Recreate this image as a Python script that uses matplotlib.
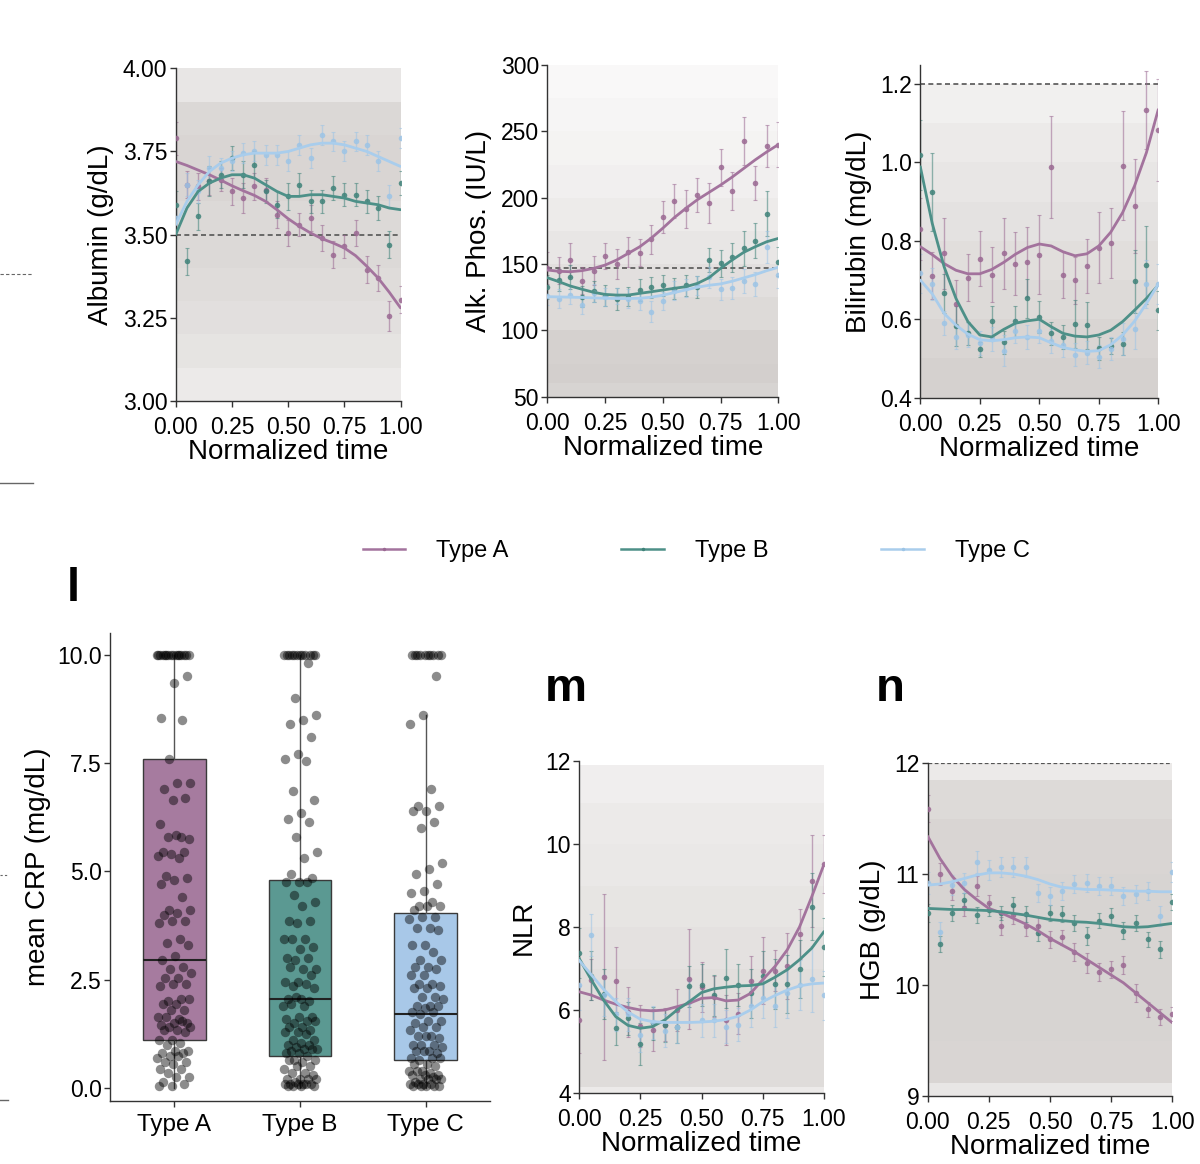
import numpy as np
import matplotlib
matplotlib.use("Agg")
import matplotlib.pyplot as plt
from matplotlib.lines import Line2D
from matplotlib.colors import LinearSegmentedColormap

plt.rcParams['font.family'] = ['Liberation Sans', 'DejaVu Sans']

# ---------------- data ----------------
t = [0.00, 0.05, 0.10, 0.15, 0.20, 0.25, 0.30, 0.35, 0.40, 0.45, 0.50,
     0.55, 0.60, 0.65, 0.70, 0.75, 0.80, 0.85, 0.90, 0.95, 1.00]
groups = ["Type A", "Type B", "Type C"]

# Albumin
alb_A = [3.79, 3.65, 3.645, 3.66, 3.665, 3.63, 3.61, 3.645, 3.635, 3.56, 3.505,
         3.53, 3.55, 3.49, 3.44, 3.465, 3.505, 3.395, 3.37, 3.255, 3.305]
alb_A_err = [0.05, 0.04, 0.04, 0.04, 0.035, 0.04, 0.045, 0.04, 0.035, 0.04, 0.04,
             0.035, 0.04, 0.04, 0.04, 0.035, 0.04, 0.04, 0.04, 0.045, 0.04]
alb_A_fit = [3.720, 3.708, 3.694, 3.680, 3.664, 3.647, 3.632, 3.618, 3.600, 3.575, 3.548,
             3.525, 3.505, 3.488, 3.475, 3.460, 3.437, 3.405, 3.370, 3.327, 3.280]
alb_B = [3.59, 3.42, 3.555, 3.66, 3.68, 3.73, 3.68, 3.71, 3.63, 3.59, 3.615,
         3.65, 3.60, 3.60, 3.64, 3.62, 3.62, 3.60, 3.58, 3.47, 3.655]
alb_B_err = [0.04, 0.04, 0.04, 0.045, 0.04, 0.035, 0.04, 0.04, 0.035, 0.04, 0.04,
             0.035, 0.035, 0.035, 0.035, 0.035, 0.035, 0.035, 0.035, 0.04, 0.035]
alb_B_fit = [3.500, 3.580, 3.630, 3.655, 3.670, 3.680, 3.680, 3.670, 3.650, 3.630, 3.615,
             3.615, 3.620, 3.620, 3.615, 3.610, 3.600, 3.595, 3.590, 3.580, 3.575]
alb_C = [3.55, 3.65, 3.63, 3.70, 3.70, 3.72, 3.745, 3.75, 3.74, 3.74, 3.72,
         3.77, 3.73, 3.80, 3.78, 3.75, 3.78, 3.77, 3.72, 3.615, 3.79]
alb_C_err = [0.035, 0.035, 0.035, 0.035, 0.03, 0.03, 0.03, 0.03, 0.03, 0.03, 0.03,
             0.03, 0.03, 0.03, 0.03, 0.03, 0.03, 0.03, 0.03, 0.035, 0.03]
alb_C_fit = [3.530, 3.600, 3.650, 3.690, 3.715, 3.730, 3.740, 3.745, 3.745, 3.745, 3.750,
             3.760, 3.770, 3.775, 3.775, 3.770, 3.760, 3.750, 3.735, 3.720, 3.705]

# Alkaline phosphatase
alk_A = [147, 145, 153, 137.5, 145, 156, 150, 159, 158.5, 168.5, 185.5,
         197.5, 191.5, 202, 196, 223, 205, 243, 211, 239, 240]
alk_A_err = [12, 10, 13, 10, 11, 10, 11, 11, 10, 11, 12,
             13, 14, 13, 15, 14, 14, 18, 13, 16, 17]
alk_A_fit = [145.5, 144.5, 144.2, 145.0, 146.7, 149.2, 153.0, 158.0, 163.0, 169.5, 177.0,
             185.0, 192.0, 198.5, 204.0, 209.5, 215.5, 222.0, 228.5, 234.5, 240.0]
alk_B = [132.4, 138, 140.5, 125.4, 129.4, 126, 123.6, 125.4, 130.4, 132.4, 134,
         131.4, 134, 132.6, 153, 150.5, 155, 161.8, 167.6, 188, 151.8]
alk_B_err = [9, 8, 9, 8, 8, 8, 8, 7, 8, 8, 8,
             8, 8, 8, 9, 10, 11, 13, 13, 17, 11]
alk_B_fit = [139.7, 136.7, 133.4, 131.0, 128.7, 127.1, 126.6, 126.6, 127.9, 129.1, 130.4,
             131.7, 132.9, 135.4, 139.7, 146.7, 153.0, 158.8, 163.0, 166.8, 169.3]
alk_C = [126, 124, 127, 119, 128, 125, 126, 124, 122, 114, 122,
         130, 132, 134, 140, 131, 132, 137, 135, 163, 142]
alk_C_err = [7, 7, 7, 7, 7, 7, 6, 7, 7, 8, 7,
             7, 7, 7, 8, 8, 8, 9, 9, 12, 10]
alk_C_fit = [125.4, 125.2, 125.0, 124.8, 124.5, 124.2, 124.0, 124.0, 124.2, 125.0, 126.5,
             128.5, 130.5, 132.5, 134.0, 135.0, 137.0, 139.5, 142.0, 145.0, 147.5]

# Bilirubin
bil_A = [0.83, 0.711, 0.768, 0.64, 0.706, 0.754, 0.714, 0.768, 0.742, 0.746, 0.765,
         0.989, 0.713, 0.70, 0.736, 0.783, 0.795, 0.992, 0.889, 1.134, 1.083]
bil_A_err = [0.08, 0.06, 0.09, 0.06, 0.06, 0.07, 0.07, 0.09, 0.08, 0.09, 0.10,
             0.13, 0.06, 0.06, 0.07, 0.09, 0.09, 0.14, 0.12, 0.10, 0.13]
bil_A_fit = [0.785, 0.765, 0.742, 0.725, 0.716, 0.716, 0.727, 0.745, 0.766, 0.783, 0.792,
             0.787, 0.772, 0.762, 0.767, 0.787, 0.822, 0.872, 0.940, 1.025, 1.135]
bil_B = [1.019, 0.924, 0.666, 0.583, 0.564, 0.523, 0.595, 0.541, 0.595, 0.654, 0.606,
         0.564, 0.555, 0.588, 0.585, 0.526, 0.532, 0.538, 0.697, 0.738, 0.623]
bil_B_err = [0.09, 0.10, 0.05, 0.05, 0.03, 0.02, 0.04, 0.03, 0.04, 0.05, 0.04,
             0.03, 0.03, 0.06, 0.06, 0.03, 0.02, 0.03, 0.08, 0.10, 0.05]
bil_B_fit = [0.989, 0.845, 0.734, 0.653, 0.594, 0.560, 0.555, 0.574, 0.590, 0.596, 0.600,
             0.581, 0.564, 0.557, 0.555, 0.560, 0.572, 0.594, 0.623, 0.653, 0.687]
bil_C = [0.717, 0.69, 0.59, 0.555, 0.56, 0.54, 0.55, 0.52, 0.57, 0.555, 0.57,
         0.545, 0.535, 0.51, 0.515, 0.505, 0.525, 0.55, 0.575, 0.69, 0.69]
bil_C_err = [0.05, 0.04, 0.03, 0.03, 0.03, 0.03, 0.03, 0.04, 0.03, 0.03, 0.03,
             0.03, 0.03, 0.03, 0.03, 0.03, 0.03, 0.04, 0.05, 0.06, 0.05]
bil_C_fit = [0.700, 0.665, 0.615, 0.585, 0.562, 0.548, 0.545, 0.548, 0.553, 0.555, 0.553,
             0.540, 0.528, 0.522, 0.518, 0.520, 0.535, 0.560, 0.595, 0.640, 0.690]

# NLR
nlr_A = [5.77, 6.73, 6.79, 6.71, 5.96, 5.62, 5.52, 5.65, 6.0, 6.74, 6.55,
         6.32, 5.76, 5.91, 6.71, 6.95, 6.95, 7.06, 7.83, 9.11, 9.51]
nlr_A_err = [0.8, 0.5, 2.0, 0.8, 0.6, 0.5, 0.5, 0.4, 0.5, 1.2, 0.6,
             0.5, 0.6, 0.5, 0.6, 0.8, 0.5, 0.8, 0.6, 1.1, 0.7]
nlr_A_fit = [6.44, 6.36, 6.24, 6.14, 6.06, 6.00, 5.98, 6.00, 6.08, 6.16, 6.28,
             6.30, 6.22, 6.24, 6.40, 6.73, 7.05, 7.45, 8.00, 8.73, 9.51]
nlr_B = [7.37, 6.83, 6.38, 5.56, 5.80, 5.18, 5.68, 5.63, 5.60, 6.57, 6.60,
         6.35, 6.76, 6.60, 6.40, 6.81, 6.63, 6.63, 6.98, 8.49, 7.51]
nlr_B_err = [0.6, 0.6, 0.6, 0.4, 0.4, 0.5, 0.4, 0.4, 0.4, 0.5, 0.5,
             0.5, 0.7, 0.5, 0.6, 0.6, 0.6, 0.7, 0.7, 0.8, 0.7]
nlr_B_fit = [7.25, 6.73, 6.24, 5.84, 5.63, 5.56, 5.60, 5.76, 6.00, 6.20, 6.42,
             6.51, 6.55, 6.58, 6.59, 6.63, 6.79, 6.97, 7.21, 7.49, 7.89]
nlr_C = [6.6, 7.81, 6.35, 5.9, 5.9, 5.4, 5.7, 5.5, 5.6, 6.2, 5.75,
         5.75, 5.6, 5.65, 6.1, 6.3, 6.1, 6.4, 6.6, 6.75, 6.35]
nlr_C_err = [0.6, 0.5, 0.5, 0.4, 0.4, 0.4, 0.4, 0.4, 0.4, 0.5, 0.4,
             0.4, 0.4, 0.4, 0.5, 0.5, 0.5, 0.6, 0.6, 0.8, 0.6]
nlr_C_fit = [7.20, 6.85, 6.50, 6.20, 5.95, 5.78, 5.72, 5.70, 5.70, 5.70, 5.71,
             5.73, 5.77, 5.85, 6.00, 6.20, 6.35, 6.48, 6.58, 6.63, 6.65]

# Hemoglobin
hgb_A = [11.59, 11.0, 10.85, 10.69, 10.89, 10.74, 10.53, 10.63, 10.53, 10.53, 10.41,
         10.43, 10.30, 10.20, 10.12, 10.14, 10.18, 9.93, 9.78, 9.71, 9.74]
hgb_A_err = [0.12, 0.10, 0.08, 0.07, 0.09, 0.07, 0.08, 0.08, 0.09, 0.08, 0.08,
             0.07, 0.08, 0.09, 0.08, 0.08, 0.08, 0.08, 0.07, 0.07, 0.06]
hgb_A_fit = [11.34, 11.14, 10.98, 10.86, 10.77, 10.69, 10.65, 10.60, 10.55, 10.49, 10.42,
             10.36, 10.30, 10.23, 10.16, 10.09, 10.02, 9.93, 9.84, 9.75, 9.66]
hgb_B = [10.65, 10.37, 10.65, 10.77, 10.63, 10.68, 10.65, 10.72, 10.64, 10.47, 10.65,
         10.64, 10.56, 10.44, 10.58, 10.62, 10.49, 10.56, 10.41, 10.32, 10.75]
hgb_B_err = [0.08, 0.07, 0.07, 0.06, 0.07, 0.06, 0.06, 0.07, 0.07, 0.07, 0.07,
             0.07, 0.07, 0.08, 0.07, 0.07, 0.08, 0.07, 0.07, 0.08, 0.07]
hgb_B_fit = [10.69, 10.685, 10.68, 10.68, 10.675, 10.67, 10.66, 10.645, 10.63, 10.61, 10.59,
             10.58, 10.57, 10.565, 10.555, 10.54, 10.525, 10.52, 10.525, 10.54, 10.555]
hgb_C = [10.92, 10.48, 10.9, 10.92, 11.11, 11.04, 11.06, 11.06, 11.06, 10.83, 10.80,
         10.85, 10.91, 10.92, 10.89, 10.89, 10.80, 10.82, 10.85, 10.62, 11.02]
hgb_C_err = [0.10, 0.09, 0.09, 0.09, 0.1, 0.09, 0.09, 0.09, 0.09, 0.08, 0.08,
             0.08, 0.08, 0.08, 0.08, 0.08, 0.08, 0.08, 0.08, 0.09, 0.09]
hgb_C_fit = [10.90, 10.91, 10.93, 10.96, 10.99, 11.01, 11.01, 11.00, 10.98, 10.95, 10.91,
             10.88, 10.87, 10.86, 10.86, 10.855, 10.85, 10.845, 10.845, 10.84, 10.84]

# mean CRP per patient
crp_A = [10.0, 10.0, 10.0, 10.0, 10.0, 10.0, 10.0, 10.0, 10.0, 10.0, 10.0, 10.0, 10.0, 10.0, 10.0, 10.0,
         9.5, 9.35, 8.55, 8.5, 7.6, 7.05, 7.05, 6.9, 6.7, 6.65, 6.1, 5.8, 5.8, 5.75, 5.85,
         5.45, 5.45, 5.4, 5.35, 5.3, 4.9, 4.85, 4.8, 4.7, 4.4, 4.1, 4.1, 4.05, 4.0, 3.85,
         3.85, 3.8, 3.45, 3.35, 3.3, 3.05, 2.95, 2.8, 2.75, 2.65, 2.55, 2.55, 2.4, 2.4,
         2.35, 2.05, 2.0, 2.05, 1.95, 1.95, 1.8, 1.8, 1.65, 1.6, 1.65, 1.5, 1.5, 1.45,
         1.55, 1.4, 1.4, 1.35, 1.35, 1.3, 1.1, 1.1, 1.05, 1.0, 0.85, 0.85, 0.8, 0.8, 0.75,
         0.7, 0.75, 0.6, 0.6, 0.55, 0.45, 0.45, 0.35, 0.25, 0.25, 0.15, 0.1, 0.05, 0.05]
crp_B = [10.0, 10.0, 10.0, 10.0, 10.0, 10.0, 10.0, 10.0, 10.0, 10.0, 10.0, 10.0,
         9.8, 9.0, 8.6, 8.5, 8.4, 8.1, 7.7, 7.6, 7.55, 6.85, 6.65, 6.35, 6.2, 6.15, 5.8,
         5.45, 5.3, 4.95, 4.85, 4.75, 4.75, 4.75, 4.45, 4.3, 4.2, 3.85, 3.85, 3.8, 3.45,
         3.45, 3.45, 3.25, 3.2, 3.0, 3.0, 2.95, 2.75, 2.75, 2.8, 2.6, 2.45, 2.45, 2.4,
         2.35, 2.3, 2.05, 2.05, 2.0, 2.1, 1.9, 1.9, 1.95, 1.65, 1.65, 1.6, 1.55, 1.5, 1.55,
         1.4, 1.4, 1.35, 1.3, 1.3, 1.25, 1.1, 1.1, 1.05, 1.0, 1.0, 0.95, 0.9, 0.9, 0.85,
         0.9, 0.8, 0.8, 0.75, 0.65, 0.65, 0.6, 0.65, 0.5, 0.5, 0.45, 0.35, 0.35, 0.3, 0.2,
         0.2, 0.2, 0.15, 0.2, 0.1, 0.1, 0.1, 0.1, 0.1, 0.1, 0.05, 0.05, 0.05, 0.05]
crp_C = [10.0, 10.0, 10.0, 10.0, 10.0, 10.0, 10.0, 10.0, 10.0, 10.0,
         9.5, 8.6, 8.4, 6.9, 6.5, 6.5, 6.4, 6.4, 6.15, 6.0, 5.2, 5.05, 4.95, 4.7, 4.55,
         4.5, 4.3, 4.2, 4.2, 4.2, 4.1, 3.95, 3.95, 3.9, 3.7, 3.7, 3.65, 3.3, 3.3, 3.15,
         2.95, 2.95, 2.8, 2.8, 2.75, 2.6, 2.6, 2.4, 2.4, 2.35, 2.3, 2.3, 2.1, 2.1, 2.05,
         1.9, 1.9, 1.9, 1.85, 1.75, 1.75, 1.7, 1.55, 1.55, 1.5, 1.4, 1.4, 1.35, 1.2, 1.2,
         1.15, 1.2, 1.0, 1.0, 1.0, 0.95, 0.85, 0.85, 0.8, 0.85, 0.7, 0.7, 0.65, 0.7, 0.55,
         0.55, 0.5, 0.4, 0.4, 0.35, 0.4, 0.3, 0.3, 0.3, 0.25, 0.2, 0.2, 0.2, 0.15, 0.2,
         0.1, 0.1, 0.1, 0.1, 0.05, 0.05, 0.05, 0.05, 0.05]
crp_q1 = [1.1, 0.75, 0.65]
crp_med = [2.95, 2.05, 1.7]
crp_q3 = [7.6, 4.8, 4.05]
crp_whislo = [0.0, 0.0, 0.0]
crp_whishi = [10.0, 10.0, 8.6]

# background density of individual trajectories (grey texture)
alb_bg_edges = [3.0, 3.1, 3.2, 3.3, 3.4, 3.6, 3.7, 3.8, 3.9, 4.0]
alb_bg_dens = [0.25, 0.33, 0.38, 0.42, 0.46, 0.5, 0.5, 0.47, 0.3]
alk_bg_edges = [50, 60, 75, 100, 125, 150, 175, 200, 225, 250, 275, 300]
alk_bg_dens = [0.52, 0.58, 0.55, 0.45, 0.38, 0.3, 0.24, 0.19, 0.15, 0.12, 0.08]
bil_bg_edges = [0.4, 0.5, 0.6, 0.7, 0.8, 0.9, 1.0, 1.1, 1.2, 1.25]
bil_bg_dens = [0.55, 0.5, 0.45, 0.4, 0.35, 0.3, 0.25, 0.18, 0.0]
nlr_bg_edges = [4.0, 4.15, 5, 6, 7, 8, 9, 10, 11, 11.9, 12]
nlr_bg_dens = [0.25, 0.42, 0.42, 0.4, 0.36, 0.32, 0.28, 0.25, 0.2, 0.0]
hgb_bg_edges = [9.0, 9.12, 9.5, 10, 10.5, 11, 11.5, 11.85, 12.0]
hgb_bg_dens = [0.3, 0.5, 0.52, 0.52, 0.52, 0.5, 0.45, 0.25]

# ---------------- style ----------------
col_line = {"Type A": "#A3739D", "Type B": "#4D9088", "Type C": "#A9CDEC"}
col_pt = {"Type A": "#9A6892", "Type B": "#3F8279", "Type C": "#9CC4E6"}
col_box = {"Type A": "#A67B9F", "Type B": "#5B9992", "Type C": "#A8C8E8"}
spine_col = "#333333"
TICK_FS = 16.5
LAB_FS = 20

bg_cmap = LinearSegmentedColormap.from_list("bg", ["#ffffff", "#b3aca8"])

fig = plt.figure(figsize=(12, 11.64), dpi=100)
W, H = 1200.0, 1164.0


def add_ax(x0, x1, ytop, ybot):
    return fig.add_axes([x0 / W, 1 - ybot / H, (x1 - x0) / W, (ybot - ytop) / H])


def style_ax(ax):
    for s in ["top", "right"]:
        ax.spines[s].set_visible(False)
    for s in ["left", "bottom"]:
        ax.spines[s].set_color(spine_col)
        ax.spines[s].set_linewidth(1.0)
    ax.tick_params(direction="out", length=4, width=1, color=spine_col,
                   labelsize=TICK_FS, pad=2, labelcolor="black")
    ax.tick_params(axis="x", pad=7)


def traj_panel(ax, ylim, yticks, ylabels, ylabel, series, bg_edges, bg_dens, refline=None,
               ref_lw=1.2):
    style_ax(ax)
    edges = np.array(bg_edges, dtype=float)
    dens = np.array(bg_dens, dtype=float)
    for lo, hi, d in zip(edges[:-1], edges[1:], dens):
        ax.axhspan(lo, hi, xmin=0, xmax=1, color=bg_cmap(d), lw=0, zorder=0)
    if refline is not None:
        ax.axhline(refline, color="#555555", lw=ref_lw, ls=(0, (3, 2)), zorder=1)
    for g, (vals, err, fit) in zip(groups, series):
        ax.errorbar(t, vals, yerr=err, fmt="none", ecolor=col_pt[g], alpha=0.55,
                    elinewidth=1.0, capsize=1.5, capthick=0.8, zorder=2)
        ax.scatter(t, vals, s=16, color=col_pt[g], alpha=0.85, lw=0, zorder=3)
    for g, (vals, err, fit) in zip(groups, series):
        ax.plot(t, fit, color=col_line[g], lw=2.0, zorder=4, solid_capstyle="round")
    ax.set_xlim(0, 1)
    ax.set_ylim(*ylim)
    ax.set_xticks([0, 0.25, 0.5, 0.75, 1.0])
    ax.set_xticklabels(["0.00", "0.25", "0.50", "0.75", "1.00"])
    ax.set_yticks(yticks)
    ax.set_yticklabels(ylabels)
    ax.set_xlabel("Normalized time", fontsize=LAB_FS, labelpad=0)
    ax.set_ylabel(ylabel, fontsize=LAB_FS, labelpad=6)


# Albumin
ax1 = add_ax(175.7, 400.5, 68.3, 401)
traj_panel(ax1, (3.0, 4.0), [3.0, 3.25, 3.5, 3.75, 4.0],
           ["3.00", "3.25", "3.50", "3.75", "4.00"], "Albumin (g/dL)",
           [(alb_A, alb_A_err, alb_A_fit), (alb_B, alb_B_err, alb_B_fit),
            (alb_C, alb_C_err, alb_C_fit)], alb_bg_edges, alb_bg_dens, refline=3.5)

# Alk phos
ax2 = add_ax(547.3, 778.3, 65, 396.7)
traj_panel(ax2, (50, 300), [50, 100, 150, 200, 250, 300],
           ["50", "100", "150", "200", "250", "300"], "Alk. Phos. (IU/L)",
           [(alk_A, alk_A_err, alk_A_fit), (alk_B, alk_B_err, alk_B_fit),
            (alk_C, alk_C_err, alk_C_fit)], alk_bg_edges, alk_bg_dens, refline=147)

# Bilirubin
ax3 = add_ax(920.3, 1158.3, 65.2, 397.7)
traj_panel(ax3, (0.4, 1.248), [0.4, 0.6, 0.8, 1.0, 1.2],
           ["0.4", "0.6", "0.8", "1.0", "1.2"], "Bilirubin (mg/dL)",
           [(bil_A, bil_A_err, bil_A_fit), (bil_B, bil_B_err, bil_B_fit),
            (bil_C, bil_C_err, bil_C_fit)], bil_bg_edges, bil_bg_dens, refline=1.2)

# NLR
ax4 = add_ax(579, 824, 761, 1093)
traj_panel(ax4, (4, 12), [4, 6, 8, 10, 12], ["4", "6", "8", "10", "12"], "NLR",
           [(nlr_A, nlr_A_err, nlr_A_fit), (nlr_B, nlr_B_err, nlr_B_fit),
            (nlr_C, nlr_C_err, nlr_C_fit)], nlr_bg_edges, nlr_bg_dens)

# HGB
ax5 = add_ax(927.7, 1172.3, 763, 1096)
traj_panel(ax5, (9, 12), [9, 10, 11, 12], ["9", "10", "11", "12"], "HGB (g/dL)",
           [(hgb_A, hgb_A_err, hgb_A_fit), (hgb_B, hgb_B_err, hgb_B_fit),
            (hgb_C, hgb_C_err, hgb_C_fit)], hgb_bg_edges, hgb_bg_dens, refline=12.0,
           ref_lw=0.9)

# CRP boxplot
axb = add_ax(110, 490, 633, 1101)
style_ax(axb)
stats = []
for i, g in enumerate(groups):
    stats.append(dict(label=g, q1=crp_q1[i], med=crp_med[i], q3=crp_q3[i],
                      whislo=crp_whislo[i], whishi=crp_whishi[i], fliers=[]))
bp = axb.bxp(stats, positions=[0, 1, 2], widths=0.5, patch_artist=True,
             showfliers=False, showcaps=False,
             boxprops=dict(linewidth=1.0, edgecolor="#3a3a3a"),
             medianprops=dict(color="#222222", linewidth=1.5),
             whiskerprops=dict(color="#555555", linewidth=1.0))
for patch, g in zip(bp["boxes"], groups):
    patch.set_facecolor(col_box[g])
    patch.set_zorder(1)
for i, vals in enumerate([crp_A, crp_B, crp_C]):
    n = len(vals)
    offs = np.array([((k * 0.6180339887 + 0.31 * i) % 1.0) - 0.5 for k in range(n)]) * 0.27
    axb.scatter(i + offs, vals, s=46, color="black", alpha=0.45, lw=0, zorder=3)
axb.set_xlim(-0.51, 2.51)
axb.set_ylim(-0.3, 10.5)
axb.set_yticks([0, 2.5, 5, 7.5, 10])
axb.set_yticklabels(["0.0", "2.5", "5.0", "7.5", "10.0"])
axb.set_xticks([0, 1, 2])
axb.set_xticklabels(groups)
axb.tick_params(axis="x", labelsize=17.5, pad=5)
axb.set_ylabel("mean CRP (mg/dL)", fontsize=LAB_FS, labelpad=4)

# legend
handles = [Line2D([0], [0], color=col_line[g], lw=1.8, marker="o", markersize=2.5,
                  markerfacecolor=col_pt[g], markeredgewidth=0) for g in groups]
fig.legend(handles, groups, loc="center", bbox_to_anchor=(696 / W, 1 - 551 / H), ncol=3,
           frameon=False, fontsize=17, handlelength=1.8, handletextpad=1.3,
           columnspacing=4.8)

# panel letters
fig.text(73 / W, 1 - 589 / H, "l", fontsize=34, fontweight="bold", ha="center", va="center")
fig.text(566 / W, 1 - 689 / H, "m", fontsize=34, fontweight="bold", ha="center", va="center")
fig.text(890 / W, 1 - 689 / H, "n", fontsize=34, fontweight="bold", ha="center", va="center")

# cropped remnants of neighbouring panels at the left edge
fig.add_artist(Line2D([0, 33 / W], [1 - 274 / H] * 2, color="#666666", lw=0.8, ls=(0, (3, 2))))
fig.add_artist(Line2D([0, 33 / W], [1 - 483 / H] * 2, color="#666666", lw=1.0))
fig.add_artist(Line2D([0, 8 / W], [1 - 875 / H] * 2, color="#666666", lw=0.8, ls=(0, (2, 2))))
fig.add_artist(Line2D([0, 8 / W], [1 - 1100 / H] * 2, color="#666666", lw=1.0))

fig.savefig("out.png", dpi=100, facecolor="white")
